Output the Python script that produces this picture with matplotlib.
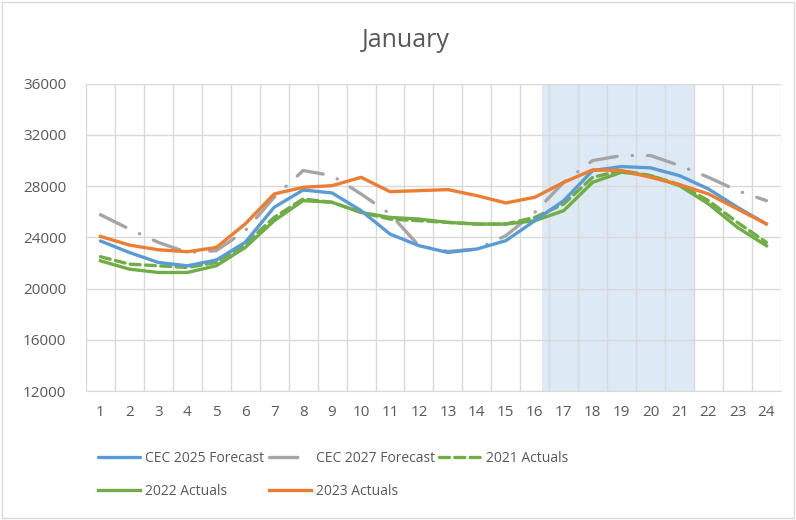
import numpy as np
import matplotlib
matplotlib.use("Agg")
import matplotlib.pyplot as plt
from matplotlib.patches import Rectangle

hours = list(range(1, 25))

cec_2025 = [23720, 22820, 22040, 21780, 22230, 23610, 26350, 27700, 27470, 26090, 24260, 23350,
            22820, 23090, 23740, 25300, 26870, 29220, 29530, 29430, 28820, 27780, 26350, 25050]
cec_2027 = [25770, 24650, 23610, 22820, 22960, 24520, 27130, 29220, 28820, 27390, 25830, 23350,
            22900, 23090, 24130, 25950, 28300, 30000, 30390, 30390, 29610, 28690, 27650, 26870]
act_2021 = [22490, 21910, 21780, 21650, 22040, 23480, 25560, 27000, 26740, 25950, 25430, 25300,
            25170, 25040, 25040, 25560, 26610, 28690, 29220, 28820, 28120, 26870, 25170, 23610]
act_2022 = [22170, 21520, 21260, 21260, 21780, 23210, 25300, 26870, 26740, 25950, 25560, 25430,
            25170, 25040, 25040, 25300, 26090, 28300, 29090, 28820, 28040, 26610, 24780, 23350]
act_2023 = [24075, 23400, 23030, 22880, 23210, 25050, 27390, 27910, 28040, 28690, 27570, 27650,
            27730, 27260, 26690, 27130, 28300, 29270, 29220, 28690, 28120, 27390, 26220, 25050]

peak_start, peak_end = 16.25, 21.5
yticks = [12000, 16000, 20000, 24000, 28000, 32000, 36000]

plt.rcParams['font.family'] = ['Open Sans', 'DejaVu Sans']
txt = '#595959'

fig = plt.figure(figsize=(7.96, 5.2), dpi=100)
fig.patches.append(Rectangle((0.003, 0.003), 0.994, 0.994, transform=fig.transFigure,
                             fill=False, edgecolor='#D9D9D9', linewidth=1))
ax = fig.add_axes([0.108, 0.248, 0.873, 0.591])

ax.axvspan(peak_start, peak_end, color='#BDD7EE', alpha=0.5, zorder=1, lw=0)

lw = 2.4
h1, = ax.plot(hours, cec_2025, color='#5B9BD5', lw=lw, zorder=4, solid_capstyle='round')
h2, = ax.plot(hours, cec_2027, color='#A5A5A5', lw=lw, zorder=3, dashes=(8.5, 4.5, 0.1, 4.5),
              dash_capstyle='round')
h3, = ax.plot(hours, act_2021, color='#70AD47', lw=lw, zorder=3, dashes=(3, 1.6),
              dash_capstyle='round')
h4, = ax.plot(hours, act_2022, color='#70AD47', lw=lw, zorder=3)
h5, = ax.plot(hours, act_2023, color='#ED7D31', lw=lw, zorder=5)

ax.set_xlim(0.5, 24.5)
ax.set_ylim(12000, 36000)
ax.set_xticks(hours)
ax.set_xticks(np.arange(0.5, 25, 1), minor=True)
ax.set_yticks(yticks)
ax.grid(True, which='minor', axis='x', color='#D9D9D9', lw=1, zorder=2)
ax.grid(True, which='major', axis='y', color='#D9D9D9', lw=1, zorder=2)
ax.set_axisbelow(False)
ax.tick_params(which='both', length=0, colors=txt, labelsize=11)
ax.tick_params(axis='x', pad=10)
ax.tick_params(axis='y', pad=14)
for s in ax.spines.values():
    s.set_visible(False)
ax.spines['bottom'].set_visible(True)
ax.spines['bottom'].set_color('#D9D9D9')

fig.text(0.51, 0.922, 'January', ha='center', va='center', fontsize=18, color=txt)

handles = [h1, h4, h2, h5, h3]
labels = ['CEC 2025 Forecast', '2022 Actuals', 'CEC 2027 Forecast', '2023 Actuals', '2021 Actuals']
fig.legend(handles, labels, ncol=3, loc='center left', bbox_to_anchor=(0.108, 0.087),
           frameon=False, fontsize=10, labelcolor=txt, handlelength=3.0,
           handletextpad=0.35, columnspacing=0.35, labelspacing=1.3)

fig.savefig('out.png', dpi=100)
